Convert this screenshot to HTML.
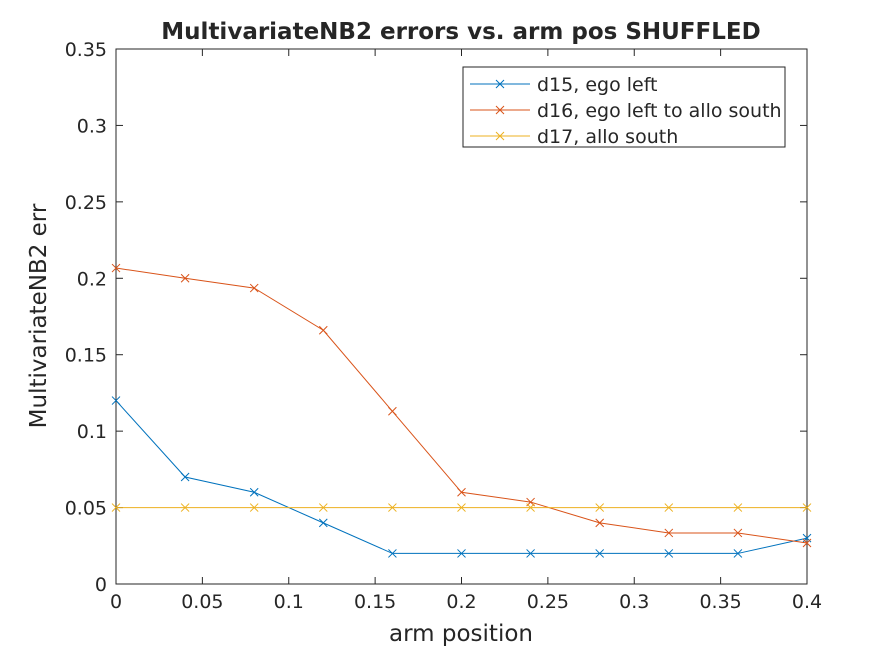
<!DOCTYPE html>
<html><head><meta charset="utf-8"><style>
body{margin:0;background:#fff;}
svg text{font-family:"DejaVu Sans","Liberation Sans",sans-serif;fill:#262626;}
</style></head><body>
<svg width="891" height="656" xmlns="http://www.w3.org/2000/svg">
<rect width="891" height="656" fill="#fff"/>
<g id="plot"></g>
</svg>
<script>
const xVals=[0,0.04,0.08,0.12,0.16,0.2,0.24,0.28,0.32,0.36,0.4];
const d15=[0.12,0.07,0.06,0.04,0.02,0.02,0.02,0.02,0.02,0.02,0.03];
const d16=[0.2067,0.200,0.1936,0.166,0.113,0.060,0.0536,0.040,0.0334,0.0334,0.0268];
const d17=[0.05,0.05,0.05,0.05,0.05,0.05,0.05,0.05,0.05,0.05,0.05];
const xTicks=[0,0.05,0.1,0.15,0.2,0.25,0.3,0.35,0.4];
const xTickLabels=["0","0.05","0.1","0.15","0.2","0.25","0.3","0.35","0.4"];
const yTicks=[0,0.05,0.1,0.15,0.2,0.25,0.3,0.35];
const yTickLabels=["0","0.05","0.1","0.15","0.2","0.25","0.3","0.35"];
const seriesNames=["d15, ego left","d16, ego left to allo south","d17, allo south"];
const colors=["#0072BD","#D95319","#EDB120"];
const L=116,R=807,T=49,B=584;
const sx=v=>L+(v-0)/(0.4)*(R-L);
const sy=v=>B-(v/0.35)*(B-T);
const NS="http://www.w3.org/2000/svg";
const g=document.getElementById('plot');
function mk(t,a,p){const e=document.createElementNS(NS,t);for(const k in a)e.setAttribute(k,a[k]);(p||g).appendChild(e);return e;}
const ax=mk('rect',{x:L,y:T,width:R-L,height:B-T,fill:'none',stroke:'#262626','stroke-width':1});


xTicks.forEach((v,i)=>{
 const x=sx(v);
 mk('line',{x1:x,x2:x,y1:B,y2:B-7,stroke:'#262626'});
 mk('line',{x1:x,x2:x,y1:T,y2:T+7,stroke:'#262626'});
 const t=mk('text',{x:x,y:B+24,'text-anchor':'middle','font-size':19});t.textContent=xTickLabels[i];
 
 
});
yTicks.forEach((v,i)=>{
 const y=sy(v);
 mk('line',{x1:L,x2:L+7,y1:y,y2:y,stroke:'#262626'});
 mk('line',{x1:R,x2:R-7,y1:y,y2:y,stroke:'#262626'});
 const t=mk('text',{x:L-9,y:y+7,'text-anchor':'end','font-size':19});t.textContent=yTickLabels[i];
 
 
});
[d15,d16,d17].forEach((s,si)=>{
 const pts=s.map((v,i)=>sx(xVals[i])+','+sy(v)).join(' ');
 const pl=mk('polyline',{points:pts,fill:'none',stroke:colors[si],'stroke-width':1});
 
 
 s.forEach((v,i)=>{const x=sx(xVals[i]),y=sy(v);
  mk('path',{d:`M${x-4},${y-4}L${x+4},${y+4}M${x-4},${y+4}L${x+4},${y-4}`,stroke:colors[si],'stroke-width':1});});
});
const tt=mk('text',{x:461,y:39,'text-anchor':'middle','font-size':23,'font-weight':'bold'});tt.textContent="MultivariateNB2 errors vs. arm pos SHUFFLED";


const xl=mk('text',{x:461,y:641,'text-anchor':'middle','font-size':23});xl.textContent="arm position";


const yl=mk('text',{x:46,y:316,'text-anchor':'middle','font-size':23,transform:'rotate(-90 46 316)'});yl.textContent="MultivariateNB2 err";


const lg=mk('g',{});


mk('rect',{x:463,y:67,width:322,height:80,fill:'#fff',stroke:'#262626'},lg);
seriesNames.forEach((n,i)=>{
 const y=84+i*26;
 mk('line',{x1:470,x2:530,y1:y,y2:y,stroke:colors[i]},lg);
 mk('path',{d:`M496,${y-4}L504,${y+4}M496,${y+4}L504,${y-4}`,stroke:colors[i]},lg);
 const t=mk('text',{x:537,y:y+7,'font-size':19},lg);t.textContent=n;
 
 
});
</script>
</body></html>
